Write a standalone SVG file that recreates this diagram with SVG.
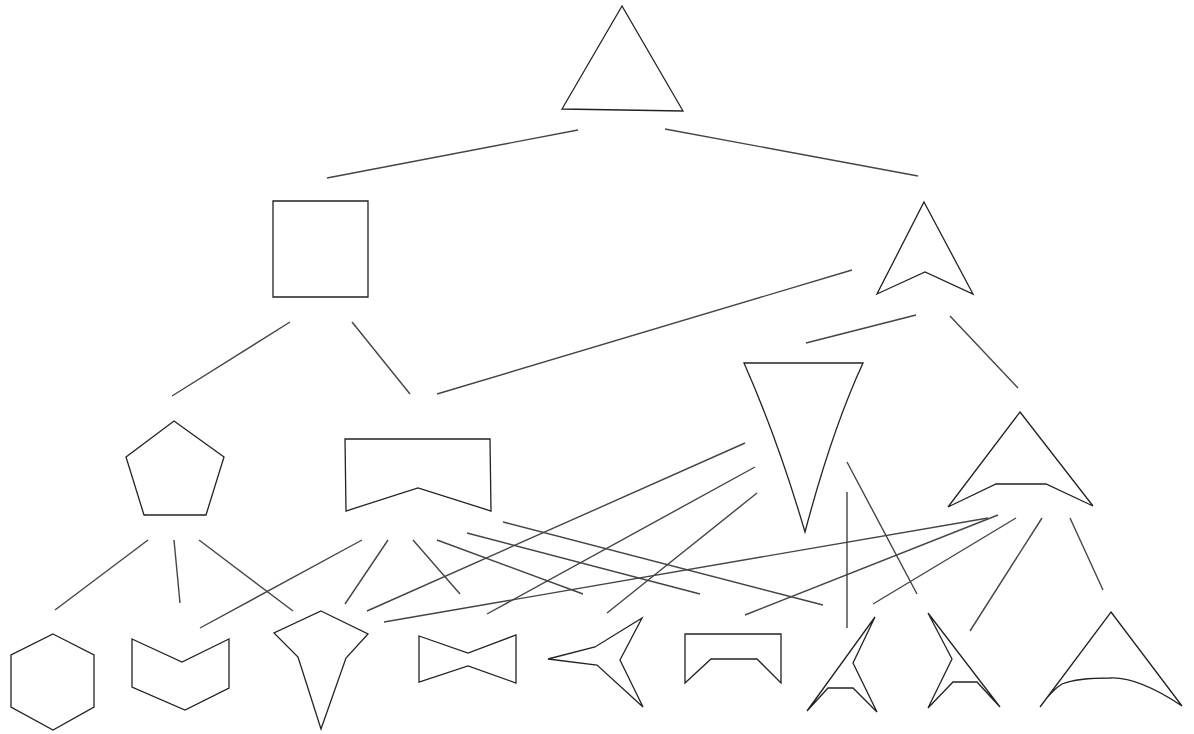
<svg xmlns="http://www.w3.org/2000/svg" width="1194" height="734" viewBox="0 0 1194 734">
<style>
.n{fill:none;stroke:#222;stroke-width:1.3;stroke-linejoin:miter}
.c line{stroke:#444;stroke-width:1.4}
</style>
<rect width="1194" height="734" fill="#fff"/>
<g class="c" id="connectors">
<line x1="578" y1="130" x2="327" y2="178"/>
<line x1="665" y1="129" x2="918" y2="176"/>
<line x1="290" y1="322" x2="172" y2="396"/>
<line x1="352" y1="322" x2="410" y2="394"/>
<line x1="852" y1="270" x2="437" y2="394"/>
<line x1="916" y1="315" x2="806" y2="343"/>
<line x1="950" y1="316" x2="1018" y2="388"/>
<line x1="148" y1="540" x2="55" y2="610"/>
<line x1="174" y1="540" x2="180" y2="603"/>
<line x1="199" y1="540" x2="293" y2="611"/>
<line x1="362" y1="540" x2="200" y2="628"/>
<line x1="388" y1="540" x2="345" y2="604"/>
<line x1="413" y1="540" x2="460" y2="594"/>
<line x1="437" y1="540" x2="583" y2="594"/>
<line x1="467" y1="533" x2="700" y2="594"/>
<line x1="503" y1="522" x2="823" y2="605"/>
<line x1="745" y1="443" x2="367" y2="611"/>
<line x1="755" y1="467" x2="487" y2="614"/>
<line x1="757" y1="493" x2="607" y2="613"/>
<line x1="847" y1="462" x2="917" y2="594"/>
<line x1="847" y1="492" x2="847" y2="628"/>
<line x1="988" y1="518" x2="384" y2="622"/>
<line x1="998" y1="515" x2="745" y2="615"/>
<line x1="1016" y1="518" x2="873" y2="604"/>
<line x1="1042" y1="518" x2="970" y2="631"/>
<line x1="1070" y1="518" x2="1103" y2="590"/>
</g>
<g id="n-triangle"><polygon class="n" points="622,6 562,109 683,111"/></g>
<g id="n-square"><polygon class="n" points="273,201 368,201 368,297 273,297"/></g>
<g id="n-arrow"><polygon class="n" points="924,202 973,294 925,272 877,294"/></g>
<g id="n-pentagon"><polygon class="n" points="174,421 224,457 206,515 144,515 126,457"/></g>
<g id="n-chevrect"><polygon class="n" points="345,439 490,439 491,511 418,488 346,511"/></g>
<g id="n-invtri"><path class="n" d="M744,363 L863,363 Q832,430 805,532 Q778,440 744,363 Z"/></g>
<g id="n-bigarrow"><polygon class="n" points="1020,412 1093,506 1046,484 996,484 948,507"/></g>
<g id="n-hexagon"><polygon class="n" points="53,634 94,655 94,707 53,730 11,707 11,655"/></g>
<g id="n-chevron"><polygon class="n" points="132,639 182,662 229,639 229,688 185,710 132,687"/></g>
<g id="n-kite"><polygon class="n" points="321,611 368,634 346,658 321,729 298,657 274,633"/></g>
<g id="n-bowtie"><polygon class="n" points="419,636 468,653 516,635 516,683 468,666 419,682"/></g>
<g id="n-star"><polygon class="n" points="548,659 595,647 642,618 620,660 643,707 597,665"/></g>
<g id="n-notchrect"><polygon class="n" points="685,634 781,634 781,683 757,659 711,659 685,683"/></g>
<g id="n-darrow1"><polygon class="n" points="875,617 853,663 877,712 853,688 828,688 807,711"/></g>
<g id="n-darrow2"><polygon class="n" points="928,613 1000,707 977,682 953,682 928,708 952,659"/></g>
<g id="n-curvearrow"><path class="n" d="M1111,612 L1182,706 C1155,688 1130,677 1110,678 C1090,678 1072,680 1062,684 C1052,690 1045,700 1040,707 Z"/></g>
</svg>
